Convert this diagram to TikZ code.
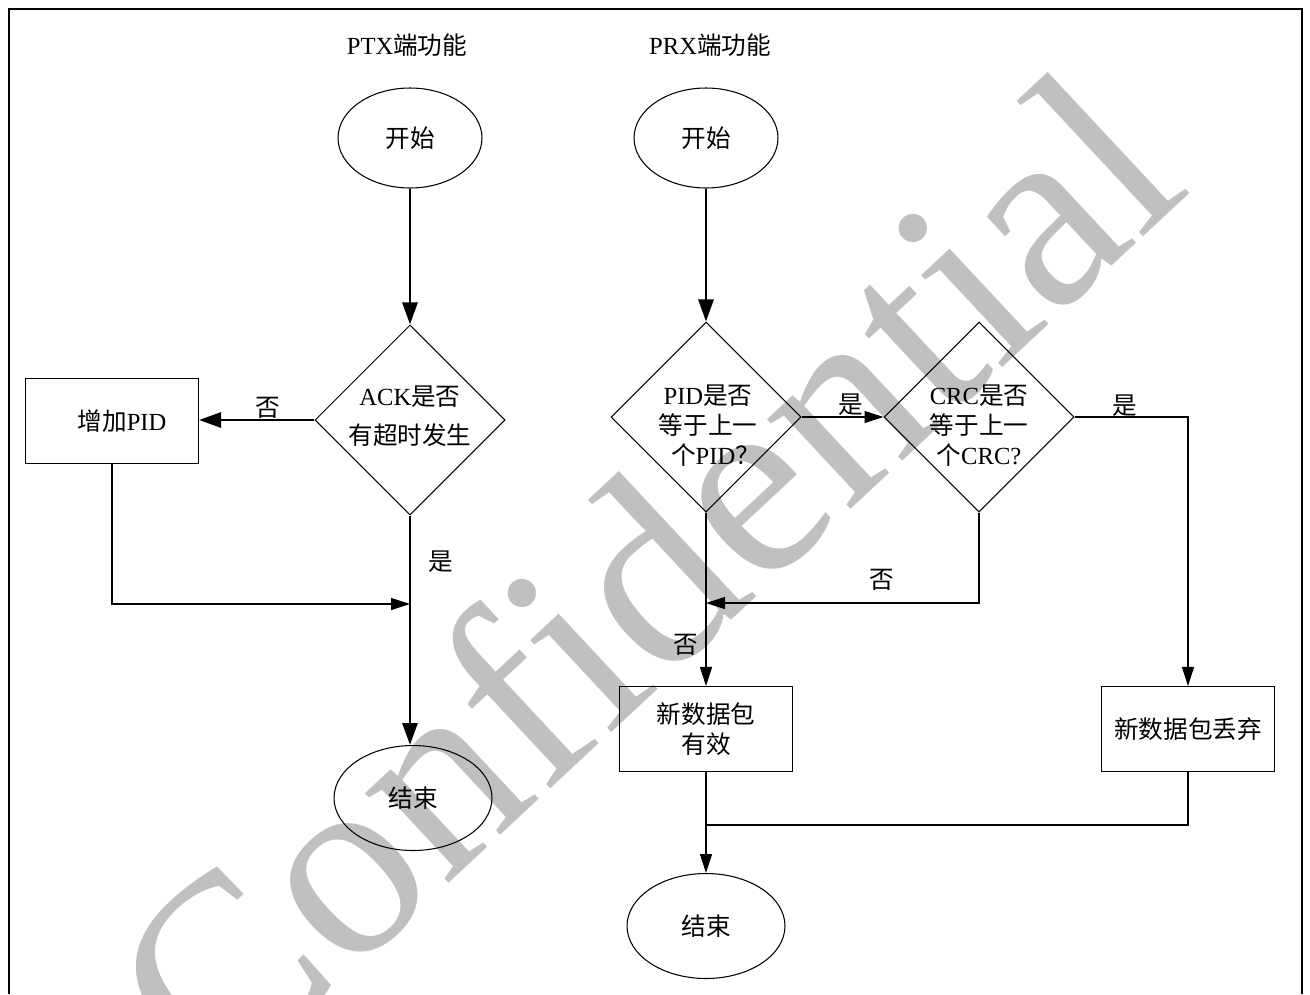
\documentclass[tikz,border=0pt]{standalone}
\usepackage{fontspec}
\setmainfont{Liberation Serif}
\newfontfamily\cjk{Noto Sans CJK SC}
\newfontfamily\wmfont[Ligatures=NoCommon]{Liberation Serif}
\newcommand{\zh}[1]{{\cjk #1}}
\usetikzlibrary{shapes.geometric,arrows.meta}
\definecolor{wmgray}{RGB}{192,192,192}

\tikzset{
  terminal/.style={ellipse, draw, line width=0.6pt, inner sep=0pt,
    minimum width=2.88cm, minimum height=2cm},
  endterm/.style={terminal, minimum width=3.16cm, minimum height=2.1cm},
  decision/.style={diamond, draw, line width=0.6pt, inner sep=0pt,
    minimum width=3.8cm, minimum height=3.8cm},
  question/.style={align=center, inner sep=0pt},
  process/.style={rectangle, draw, line width=0.6pt, align=center,
    minimum width=3.46cm, minimum height=1.7cm},
  flow/.style={-{Triangle[length=0.38cm,width=0.24cm]}, line width=0.6pt},
  mainflow/.style={-{Triangle[length=0.44cm,width=0.3cm]}, line width=1.6pt},
  link/.style={line width=0.6pt},
  answer/.style={inner sep=0pt}
}

\begin{document}
\begin{tikzpicture}[x=0.02cm, y=-0.02cm, font=\fontsize{14}{17}\selectfont]
\useasboundingbox (0,0) rectangle (1310,994);

% watermark
\node[wmgray, font=\wmfont\fontsize{152}{152}\selectfont, rotate=43, anchor=base] (wm)
  at (705,645) {Confidential};

% frame
\draw[line width=1.2pt] (9,994) -- (9,9) -- (1302,9) -- (1302,994);

% titles
\node (ptx) at (407,45) {PTX\zh{端功能}};
\node (prx) at (710,45) {PRX\zh{端功能}};

% PTX side
\node[terminal] (s1) at (410,138) {\zh{开始}};
\node[decision] (d1) at (410,420) {};
\node[question, font=\fontsize{14}{22}\selectfont] (q1) at (410,416) {ACK\zh{是否}\\\zh{有超时发生}};
\node[process] (pid) at (112,421) {\hspace{0.4cm}\zh{增加}PID};
\node[endterm] (e1) at (413,798) {\zh{结束}};
\coordinate (j1) at (410,604);

\draw[mainflow] (s1) -- (d1);
\draw[mainflow] (d1.west) -- (d1.west -| pid.east);
\draw[mainflow] (d1.south) -- (d1.south |- e1.north);
\draw[flow] (pid.south) |- (j1);
\node[answer] (no1) at (268,408) {\zh{否}};
\node[answer] (yes1) at (441,562) {\zh{是}};

% PRX side
\node[terminal] (s2) at (706,138) {\zh{开始}};
\node[decision] (d2) at (706,417) {};
\node[question] (q2) at (708,426) {PID\zh{是否}\\\zh{等于上一}\\\hspace{0.3cm}\zh{个}PID\zh{？}};
\node[decision] (d3) at (979,417) {};
\node[question] (q3) at (979,426) {CRC\zh{是否}\\\zh{等于上一}\\\zh{个}CRC?};
\node[process] (ok) at (706,729) {\zh{新数据包}\\\zh{有效}};
\node[process] (drop) at (1188,729) {\zh{新数据包丢弃}};
\node[endterm] (e2) at (706,926) {\zh{结束}};
\coordinate (j2) at (706,603);
\coordinate (j3) at (706,825);

\draw[mainflow] (s2) -- (d2);
\draw[flow] (d2.east) -- (d3.west);
\draw[flow] (d3.east) -| (drop.north);
\draw[flow] (d3.south) |- (j2);
\draw[flow] (d2.south) -- (ok.north);
\draw[link] (drop.south) |- (j3);
\draw[flow] (ok.south) -- (e2.north);
\node[answer] (yes2) at (851,405) {\zh{是}};
\node[answer] (yes3) at (1125,406) {\zh{是}};
\node[answer] (no3) at (882,580) {\zh{否}};
\node[answer] (no2) at (686,645) {\zh{否}};

\end{tikzpicture}
\end{document}
